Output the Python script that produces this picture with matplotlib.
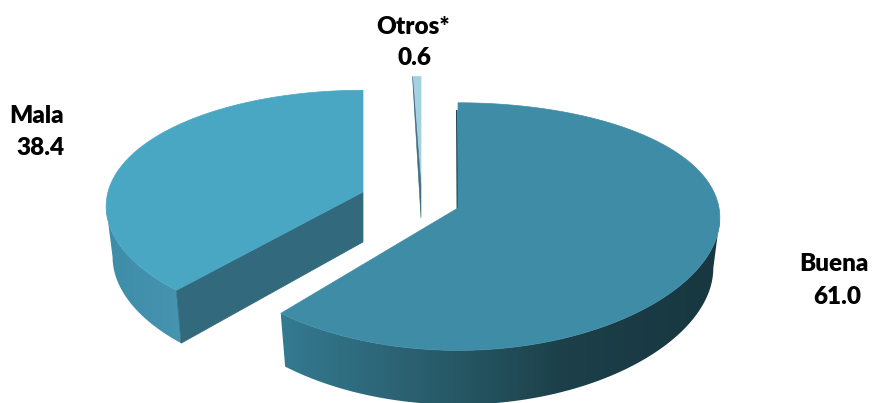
import numpy as np
import matplotlib
matplotlib.use("Agg")
import matplotlib.pyplot as plt
from matplotlib.colors import LinearSegmentedColormap
from matplotlib.patches import Polygon

categories = ["Buena", "Mala", "Otros*"]
values = [61.0, 38.4, 0.6]
value_labels = ["61.0", "38.4", "0.6"]

# layout (pixel space of the figure)
centers = [(458, 208), (363, 192), (421, 186)]
name_pos = [(834, 264), (37, 116), (413, 27)]
value_pos = [(837, 297), (40, 148), (414, 58)]
top_colors = ["#3F8CA6", "#4AA7C3", "#A5D0E0"]
cut_colors = ["#1F4A57", "#33697D", "#3F6E80"]
# wall gradient, left to right across each slice
side_stops = [
    [(0.0, "#347A90"), (0.28, "#2B6272"), (0.45, "#24535F"), (0.65, "#1C3F49"), (1.0, "#183740")],
    [(0.0, "#3E8DA8"), (1.0, "#4694AF")],
]
depths = [50, 50, 32]
rotation = [0.0, 2.16, 0.0]     # degrees
radius_x = [261.0, 255.0, 258.0]
radius_y = [121.0, 117.0, 126.0]
persp_x = [0.08, 0.12, 0.15]
persp_y = [0.15, 0.15, 0.15]
XSHRINK, YGROW = 0.975, 1.03

fig = plt.figure(figsize=(8.72, 4.03), dpi=100)
ax = fig.add_axes([0, 0, 1, 1])


def top_pt(th, i):
    c = centers[i]
    t = th + np.radians(rotation[i])
    u, v = np.sin(t), np.cos(t)
    return (c[0] + radius_x[i] * u / (1 + persp_x[i] * v),
            c[1] - radius_y[i] * v / (1 + persp_y[i] * v))


def drop(x, y, i):
    c, d = centers[i], depths[i]
    return c[0] + (x - c[0]) * XSHRINK, c[1] + d + (y - c[1]) * YGROW


def front(px, py, i):
    """Part of an arc between its side extreme and the cut facing the viewer."""
    if i == 0:
        k = np.argmax(px)
        return px[k:], py[k:]
    k = np.argmin(px)
    return px[:k + 1], py[:k + 1]


edges = np.cumsum([0] + values) / sum(values) * 2 * np.pi
for i in [1, 0, 2]:
    c = centers[i]
    th = np.linspace(edges[i], edges[i + 1], 400)
    x, y = top_pt(th, i)
    xb, yb = drop(x, y, i)
    cbx, cby = drop(c[0], c[1], i)

    if i < 2:
        # outer wall: horizontal gradient clipped to the silhouette
        tx, ty = front(x, y, i)
        bx, by = front(xb, yb, i)
        outline = np.c_[np.r_[tx, bx[::-1]], np.r_[ty, by[::-1]]]
        wall = Polygon(outline, closed=True, transform=ax.transData, fc="none", ec="none")
        ax.add_patch(wall)
        cmap = LinearSegmentedColormap.from_list(f"side{i}", side_stops[i])
        im = ax.imshow(np.linspace(0, 1, 256)[None, :], cmap=cmap, aspect="auto",
                       extent=[outline[:, 0].min(), outline[:, 0].max(), 403, 0], zorder=2 + i)
        im.set_clip_path(wall)

    if i == 1:
        ax.fill([c[0], x[0], xb[0], cbx], [c[1], y[0], yb[0], cby],
                color=cut_colors[i], lw=0.5, zorder=3 + i)
    if i == 0:
        ax.plot([x[0] - 1.2, c[0] - 0.6], [y[0] + 8, c[1]], color=cut_colors[0],
                lw=1.2, zorder=2)

    ax.fill(np.r_[c[0], x], np.r_[c[1], y], color=top_colors[i], lw=0.5,
            zorder=3 + i if i != 2 else 6)

    if i == 2:
        ax.fill([x[0], c[0], cbx], [y[0], c[1], cby], color=cut_colors[2], lw=0.4, zorder=7)

kw = dict(ha="center", va="center", family="Lato", weight="heavy", fontsize=17.5, color="black")
for i in range(len(categories)):
    ax.text(*name_pos[i], categories[i], **kw)
    ax.text(*value_pos[i], value_labels[i], **kw)

ax.set_xlim(0, 872)
ax.set_ylim(403, 0)
ax.axis("off")
fig.savefig("out.png", dpi=100, facecolor="white")
